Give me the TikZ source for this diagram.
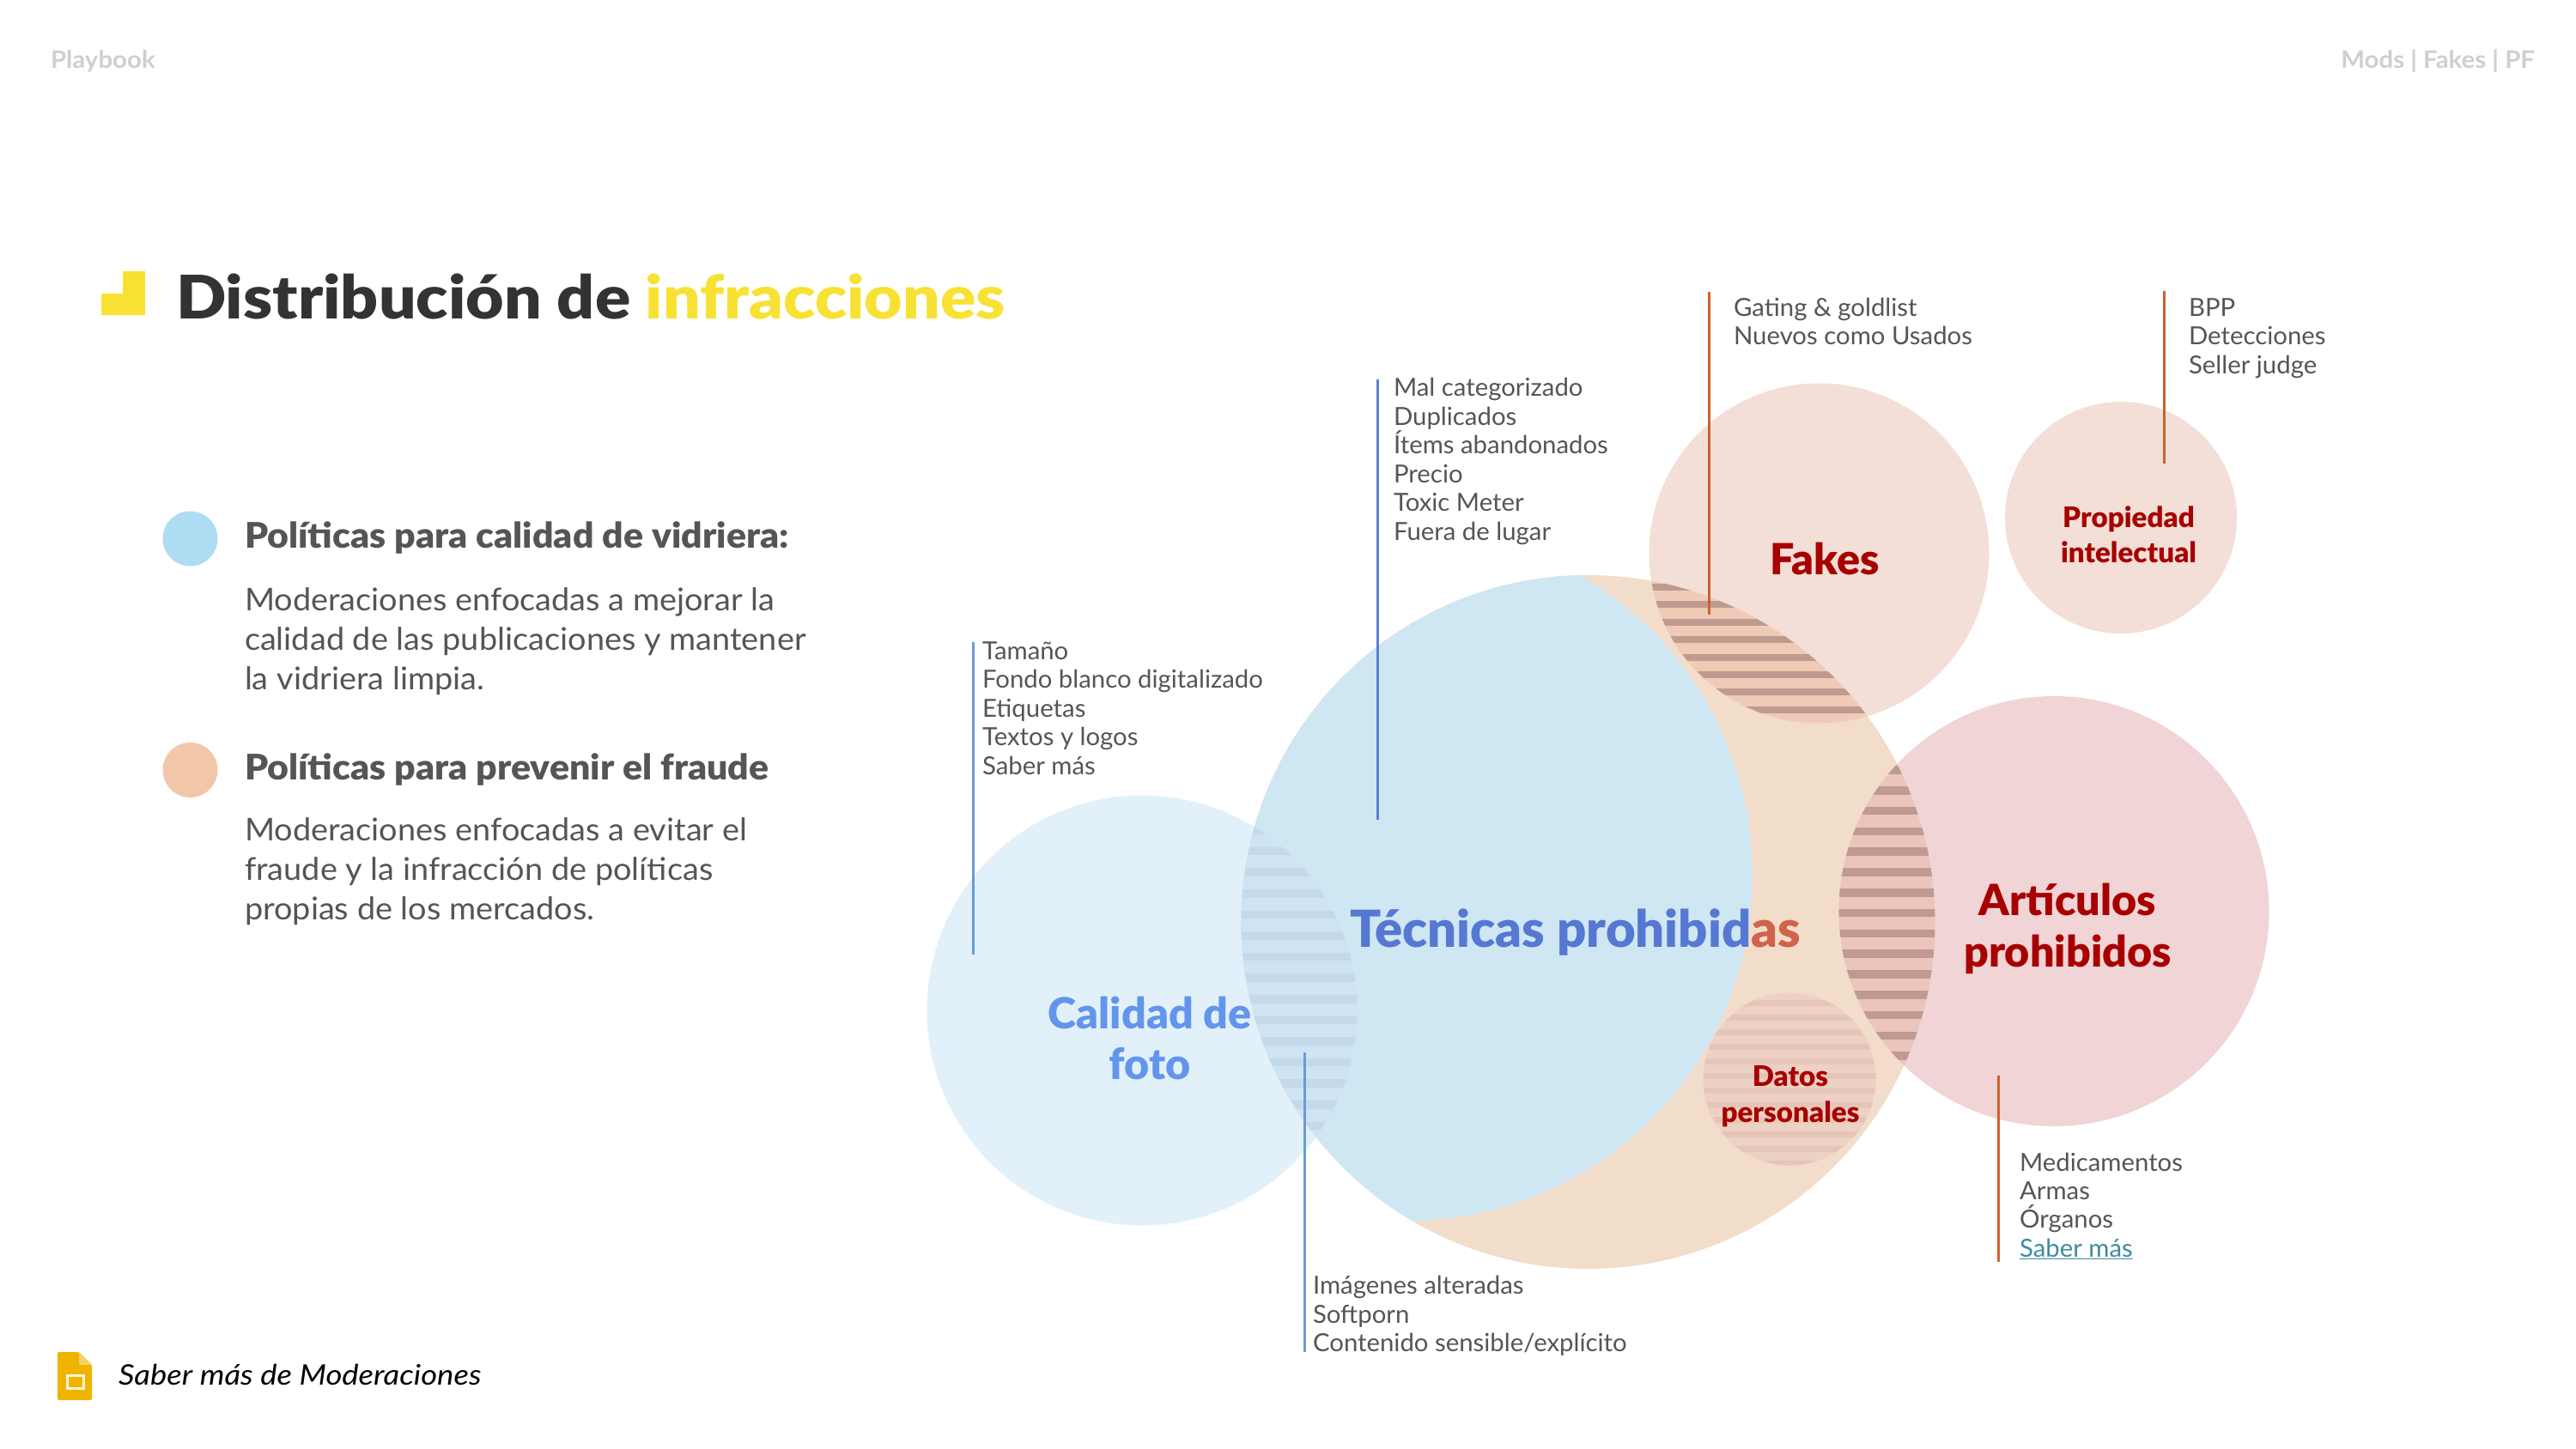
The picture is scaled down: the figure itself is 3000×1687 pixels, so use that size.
\documentclass[tikz,border=0pt]{standalone}
\usepackage{fontspec}
\setmainfont[FakeStretch=1.012]{Lato}
\newfontfamily\bodyf[FakeStretch=1.038]{Lato}
\newfontfamily\headf[FakeStretch=1.045]{Lato Black}
\newfontfamily\titlef[FakeStretch=1.097]{Lato Black}
\newfontfamily\bigf[FakeStretch=1.005]{Lato Black}
\newfontfamily\hdrf[FakeStretch=1.05]{Lato Bold}
\newfontfamily\itf[FakeStretch=1.105]{Lato Italic}
\definecolor{orangeC}{HTML}{F2DCCA}
\definecolor{blueC}{HTML}{CFE6F3}
\definecolor{calC}{HTML}{E2F1F9}
\definecolor{fakeC}{HTML}{F3DFD7}
\definecolor{artC}{HTML}{F0D4D6}
\definecolor{lensBlue}{HTML}{CEE4F2}
\definecolor{stripeBlue}{HTML}{C4DAEA}
\definecolor{lensRed}{HTML}{EFCBB7}
\definecolor{stripeRed}{HTML}{BF9A8E}
\definecolor{lensArt}{HTML}{EBC5BB}
\definecolor{stripeArt}{HTML}{C09A92}
\definecolor{datC}{HTML}{ECD1C4}
\definecolor{stripeDat}{HTML}{E6C5B9}
\definecolor{darkred}{HTML}{A80000}
\definecolor{lblue}{HTML}{5578D2}
\definecolor{lorange}{HTML}{D0634A}
\definecolor{calT}{HTML}{6495EC}
\definecolor{txt}{HTML}{555555}
\definecolor{lineA}{HTML}{5B7FD0}
\definecolor{lineB}{HTML}{6A9ADA}
\definecolor{lineC}{HTML}{D0602A}
\definecolor{yell}{HTML}{F7E234}
\definecolor{head}{HTML}{CFCFCF}
\definecolor{teal}{HTML}{3F8C9E}
\definecolor{slideY}{HTML}{F0B400}
\definecolor{dotB}{HTML}{AEDCF3}
\definecolor{dotO}{HTML}{F2C7A9}
\tikzset{
 x=1pt,y=-1pt,
 lab/.style={anchor=base west,inner sep=0pt,outer sep=0pt,text=txt,yshift=-1.5pt,font=\fontsize{29}{33}\selectfont},
 body/.style={lab,font=\bodyf\fontsize{36.5}{44}\selectfont},
 headg/.style={lab,font=\headf\fontsize{41}{48}\selectfont},
 big/.style={anchor=base,inner sep=0pt,outer sep=0pt,text=darkred,yshift=-2pt,font=\bigf\fontsize{50}{60}\selectfont},
 small/.style={big,font=\bigf\fontsize{33}{40}\selectfont},
 leaderA/.style={draw=lineA,line width=3pt},
 leaderB/.style={draw=lineB,line width=3pt},
 leaderC/.style={draw=lineC,line width=3pt},
}
\newcommand{\stripes}[5]{% first centre, period, thickness, colour, count
 \foreach \i in {1,...,#5}{\pgfmathsetmacro{\yc}{#1+(\i-1)*#2}
  \fill[#4] (1000,\yc-#3/2) rectangle (2800,\yc+#3/2);}}
\begin{document}
\begin{tikzpicture}
\useasboundingbox (0,0) rectangle (3000,1687);
\fill[white] (0,0) rectangle (3000,1687);
% circles
\fill[calC] (1330,1177) circle (250.5);
\fill[fakeC] (2118.5,644.5) circle (198);
\fill[fakeC] (2470,603) circle (135);
\fill[artC] (2392,1061.5) circle (250.5);
\fill[orangeC] (1849.5,1074) circle (404);
\begin{scope}\clip (1849.5,1074) circle (404);
 \fill[blueC] (1638,1019) circle (403);
 \begin{scope}\clip (1330,1177) circle (250.5);
  \fill[lensBlue] (1000,800) rectangle (2000,1500);
  \stripes{967}{24.6}{9.5}{stripeBlue}{15}
 \end{scope}
 \begin{scope}\clip (2118.5,644.5) circle (198);
  \fill[lensRed] (1800,600) rectangle (2400,900);
  \stripes{684}{20.4}{8}{stripeRed}{8}
 \end{scope}
 \begin{scope}\clip (2392,1061.5) circle (250.5);
  \fill[lensArt] (2100,800) rectangle (2400,1350);
  \stripes{897}{23.8}{9.5}{stripeArt}{15}
 \end{scope}
\end{scope}
\begin{scope}\clip (2084,1257) circle (100.5);
 \fill[datC] (1950,1130) rectangle (2200,1380);
 \stripes{1168}{17}{7}{stripeDat}{12}
\end{scope}
% leaders
\coordinate (a1) at (1604,442); \coordinate (a2) at (1604,955);
\coordinate (b1) at (1133,748); \coordinate (b2) at (1133,1112);
\coordinate (c1) at (1519,1226); \coordinate (c2) at (1519,1575);
\coordinate (d1) at (1990,340); \coordinate (d2) at (1990,716);
\coordinate (e1) at (2520,339); \coordinate (e2) at (2520,540);
\coordinate (f1) at (2327.5,1253); \coordinate (f2) at (2327.5,1470);
\path[leaderA] (a1) -- (a2);
\path[leaderB] (b1) -- (b2);
\path[leaderB] (c1) -- (c2);
\path[leaderC] (d1) -- (d2);
\path[leaderC] (e1) -- (e2);
\path[leaderC] (f1) -- (f2);
% big labels
\node[big,anchor=base west,text=lblue,font=\bigf\fontsize{59.5}{70}\selectfont] (tp) at (1572,1101.5) {Técnicas prohibid\textcolor{lorange}{as}};
\node[big,text=calT] (cal1) at (1339,1196) {Calidad de};
\node[big,text=calT] (cal2) at (1339,1255) {foto};
\node[big] (fk) at (2125,667) {Fakes};
\node[big] (ar1) at (2408,1064) {Artículos};
\node[big] (ar2) at (2408,1124) {prohibidos};
\node[small] (pi1) at (2479,612) {Propiedad};
\node[small] (pi2) at (2479,653.6) {intelectual};
\node[small] (da1) at (2085,1263) {Datos};
\node[small] (da2) at (2085,1305.6) {personales};
% lists
\node[lab] (t1) at (1144,767) {Tamaño};
\node[lab] (t2) at (1144,800) {Fondo blanco digitalizado};
\node[lab] (t3) at (1144,834) {Etiquetas};
\node[lab] (t4) at (1144,867) {Textos y logos};
\node[lab] (t5) at (1144,901) {Saber más};
\node[lab] (m1) at (1623,460) {Mal categorizado};
\node[lab] (m2) at (1623,494) {Duplicados};
\node[lab] (m3) at (1623,527) {Ítems abandonados};
\node[lab] (m4) at (1623,561) {Precio};
\node[lab] (m5) at (1623,594) {Toxic Meter};
\node[lab] (m6) at (1623,628) {Fuera de lugar};
\node[lab] (g1) at (2019,367) {Gating \& goldlist};
\node[lab] (g2) at (2019,400) {Nuevos como Usados};
\node[lab] (b1t) at (2549,367) {BPP};
\node[lab] (b2t) at (2549,400) {Detecciones};
\node[lab] (b3t) at (2549,434) {Seller judge};
\node[lab] (i1) at (1529,1506) {Imágenes alteradas};
\node[lab] (i2) at (1529,1540) {Softporn};
\node[lab] (i3) at (1529,1573) {Contenido sensible/explícito};
\node[lab] (o1) at (2352,1363) {Medicamentos};
\node[lab] (o2) at (2352,1396) {Armas};
\node[lab] (o3) at (2352,1429) {Órganos};
\node[lab,text=teal] (o4) at (2352,1463) {\underline{Saber más}};
% header
\node[lab,text=head,font=\hdrf\fontsize{28}{33}\selectfont] (pb) at (59,78) {Playbook};
\node[lab,anchor=base east,text=head,font=\hdrf\fontsize{28}{33}\selectfont] (mf) at (2952,78) {Mods | Fakes | PF};
% title
\fill[yell] (143,316) -- (169,316) -- (169,367) -- (118,367) -- (118,342) -- (143,342) -- cycle;
\node[lab,text=black!80,font=\titlef\fontsize{70}{80}\selectfont] (title) at (205,369.5) {Distribución de \textcolor{yell}{infracciones}};
% bullets
\fill[dotB] (221.5,627.5) circle (32);
\node[headg] (h1) at (285,637) {Políticas para calidad de vidriera:};
\node[body] (p1) at (285,710) {Moderaciones enfocadas a mejorar la};
\node[body] (p2) at (285,756) {calidad de las publicaciones y mantener};
\node[body] (p3) at (285,802) {la vidriera limpia.};
\fill[dotO] (221.5,897) circle (32);
\node[headg] (h2) at (285,907) {Políticas para prevenir el fraude};
\node[body] (q1) at (285,978) {Moderaciones enfocadas a evitar el};
\node[body] (q2) at (285,1024) {fraude y la infracción de políticas};
\node[body] (q3) at (285,1070) {propias de los mercados.};
% slides icon
\fill[slideY,rounded corners=2pt] (67,1575) -- (92,1575) -- (107,1590) -- (107,1631) -- (67,1631) -- cycle;
\fill[slideY!60!white] (92,1575) -- (107,1590) -- (92,1590) -- cycle;
\draw[white!85!slideY,line width=3pt] (78,1602) rectangle (97,1617);
\node[lab,text=black,font=\itf\fontsize{33}{40}\selectfont] (sm) at (138,1612) {Saber más de Moderaciones};
\end{tikzpicture}
\end{document}
